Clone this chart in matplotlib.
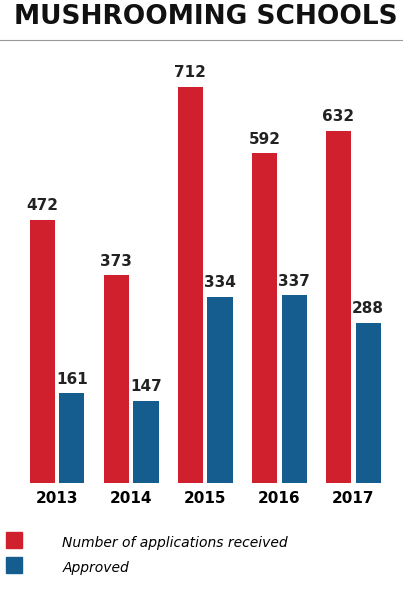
import matplotlib.pyplot as plt
import numpy as np

years = ['2013', '2014', '2015', '2016', '2017']
received = [472, 373, 712, 592, 632]
approved = [161, 147, 334, 337, 288]

red = '#d0202e'
blue = '#155c8f'

fig = plt.figure(figsize=(4.03, 5.99), dpi=100)
ax = fig.add_axes([0.0, 0.194, 1.0, 0.706])

x = np.arange(len(years))
w = 0.34
ax.bar(x - 0.2, received, w, color=red)
ax.bar(x + 0.2, approved, w, color=blue)
for i in range(len(years)):
    ax.text(x[i] - 0.2, received[i] + 12, str(received[i]), ha='center', va='bottom',
            fontsize=11, fontweight='bold', color='#222222')
    ax.text(x[i] + 0.2, approved[i] + 12, str(approved[i]), ha='center', va='bottom',
            fontsize=11, fontweight='bold', color='#222222')

ax.set_xlim(-0.77, 4.67)
ax.set_ylim(0, 760)
ax.set_xticks(x)
ax.set_xticklabels(years, fontsize=11, fontweight='bold')
ax.tick_params(axis='x', length=0, pad=6)
ax.set_yticks([])
for s in ax.spines.values():
    s.set_visible(False)

fig.text(0.51, 0.972, 'MUSHROOMING SCHOOLS', ha='center', va='center', fontsize=19,
         fontweight='bold', family=['Liberation Sans Narrow', 'DejaVu Sans'], color='#111111')
fig.add_artist(plt.Line2D([0.0, 1.0], [0.933, 0.933], color='#999999', lw=0.8))

# legend
fig.patches.append(plt.Rectangle((0.015, 0.085), 0.04, 0.027, color=red, transform=fig.transFigure))
fig.patches.append(plt.Rectangle((0.015, 0.043), 0.04, 0.027, color=blue, transform=fig.transFigure))
fig.text(0.155, 0.093, 'Number of applications received', fontsize=10, style='italic', va='center')
fig.text(0.155, 0.052, 'Approved', fontsize=10, style='italic', va='center')

fig.savefig('out.png', dpi=100)
